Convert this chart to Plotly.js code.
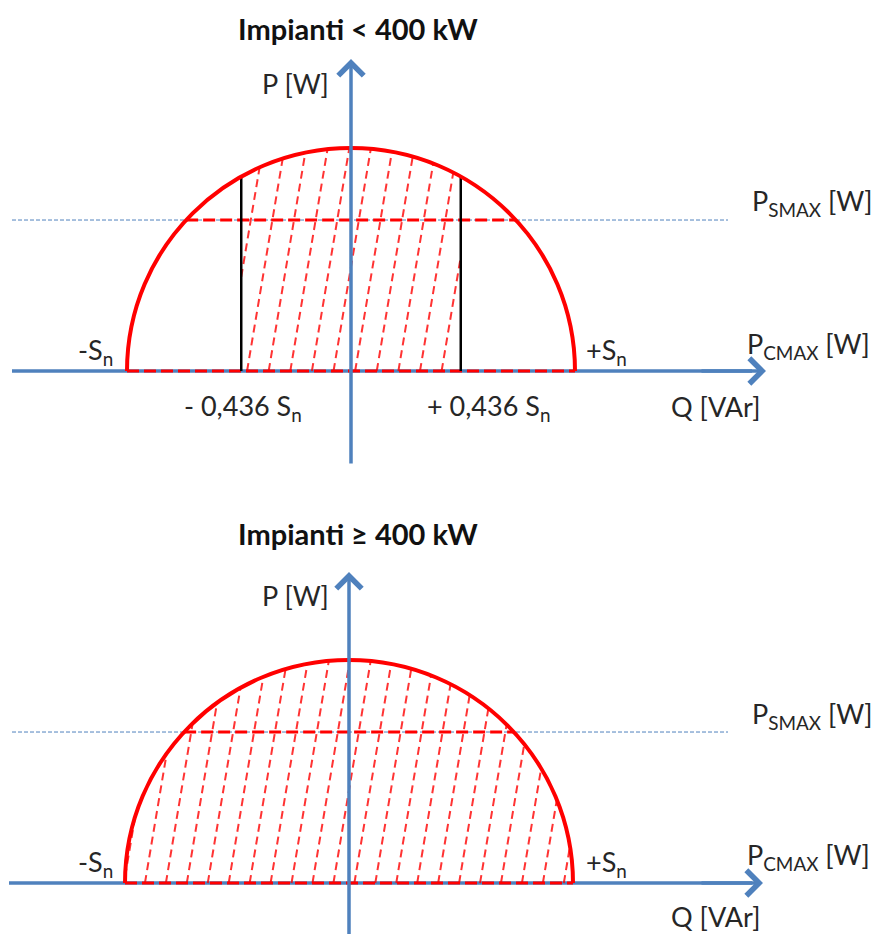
<!DOCTYPE html>
<html><head><meta charset="utf-8">
<script src="https://cdn.plot.ly/plotly-3.0.1.min.js"></script>
<style>html,body{margin:0;padding:0;background:#fff}</style>
</head><body><div id="chart" style="width:879px;height:934px"></div>
<script>
// ---- data ----
const chartTitles = ['Impianti < 400 kW', 'Impianti \u2265 400 kW'];
const nominalS = 1;                  // Sn: radius of the capability semicircle
const pSmaxLevel = [0.677, 0.677];   // P_SMAX level (fraction of Sn)
const qLimit = [0.49, 1.0];          // reactive-power limit of the hatched area (fraction of Sn)
const hasLimitLines = [true, false];
const pLabel = 'P [W]';
const qLabel = 'Q [VAr]';
const smaxLabel = 'P<sub>SMAX</sub> [W]';
const cmaxLabel = 'P<sub>CMAX</sub> [W]';
const snLabels = ['-S<sub>n</sub>', '+S<sub>n</sub>'];
const limitLabels = ['- 0,436 S<sub>n</sub>', '+ 0,436 S<sub>n</sub>'];

// ---- layout helpers (pixel geometry of the two diagrams) ----
const W = 879, H = 934;
const sx = 224, sy = 223;
const centers = [{cx: 351, cy: 371}, {cx: 349, cy: 883}];
const hatchStart = [-0.464, -0.911], hatchStep = [0.0965, 0.0935], hatchSlope = 0.167;
const axBlue = '#4F81BD', red = '#FF0000', txt = '#262626';
const fontFam = 'Lato, "Open Sans", sans-serif';

const traces = [], shapes = [], annotations = [];
function px(i, X) { return (X - centers[i].cx) / sx; }
function py(i, Y) { return (centers[i].cy - Y) / sy; }

[0, 1].forEach(i => {
  const xa = i === 0 ? 'x' : 'x2', ya = i === 0 ? 'y' : 'y2';
  const S = nominalS, ps = pSmaxLevel[i], L = qLimit[i] * S;
  const base = {xaxis: xa, yaxis: ya, mode: 'lines', hoverinfo: 'skip', showlegend: false};
  // horizontal axis
  traces.push(Object.assign({}, base, {x: [px(i, i ? 9 : 12), px(i, 752)], y: [0, 0],
    line: {color: axBlue, width: 3.5}}));
  // P_SMAX thin blue dashed line
  traces.push(Object.assign({}, base, {x: [px(i, 12), px(i, 728)], y: [ps, ps],
    line: {color: axBlue, width: 1, dash: '4px,2px'}}));
  // hatching
  const hx = [], hy = [], k = hatchSlope;
  for (let q0 = hatchStart[i] - 8 * hatchStep[i]; q0 < S; q0 += hatchStep[i]) {
    const a = 1 + k * k, b = 2 * k * q0, c = q0 * q0 - S * S;
    const d = b * b - 4 * a * c; if (d <= 0) continue;
    let lo = Math.max(0, (-b - Math.sqrt(d)) / (2 * a), (-L - q0) / k);
    let hi = Math.min((-b + Math.sqrt(d)) / (2 * a), (L - q0) / k);
    if (hi - lo < 0.01) continue;
    hx.push(q0 + k * lo, q0 + k * hi, null); hy.push(lo, hi, null);
  }
  traces.push(Object.assign({}, base, {x: hx, y: hy, connectgaps: false,
    line: {color: 'rgba(255,0,0,0.8)', width: 2, dash: '8px,5px'}}));
  // red dashed P_SMAX and bottom lines
  const qs = Math.sqrt(S * S - ps * ps);
  traces.push(Object.assign({}, base, {x: [-qs, qs], y: [ps, ps],
    line: {color: red, width: 3, dash: '12px,5px'}}));
  traces.push(Object.assign({}, base, {x: [-S, S], y: [0, 0],
    line: {color: red, width: 3, dash: '12px,5px'}}));
  // black limit lines
  if (hasLimitLines[i]) {
    const pl = Math.sqrt(S * S - L * L);
    traces.push(Object.assign({}, base, {x: [-L, -L, null, L, L], y: [0, pl, null, 0, pl],
      line: {color: '#000', width: 2.5}}));
  }
  // semicircle
  const cc = 0.5523;
  shapes.push({type: 'path', xref: xa, yref: ya, layer: 'above',
    path: `M ${-S},0 C ${-S},${cc * S} ${-cc * S},${S} 0,${S} C ${cc * S},${S} ${S},${cc * S} ${S},0`,
    line: {color: red, width: 4}});
  // axis arrows
  annotations.push({xref: xa, yref: ya, axref: xa, ayref: ya, x: 0, y: py(i, i ? 572 : 59),
    ax: 0, ay: py(i, i ? 940 : 465), text: '', showarrow: true, arrowhead: 4, arrowsize: 1.4,
    arrowwidth: 3.5, arrowcolor: axBlue});
  annotations.push({xref: xa, yref: ya, axref: xa, ayref: ya, x: px(i, i ? 763 : 766), y: 0,
    ax: px(i, 700), ay: 0, text: '', showarrow: true, arrowhead: 4, arrowsize: 1.4,
    arrowwidth: 3.5, arrowcolor: axBlue});
});

function label(text, X, Y, size, bold, anchor) {
  annotations.push({xref: 'paper', yref: 'paper', x: X / W, y: 1 - Y / H, text: bold ? '<b>' + text + '</b>' : text,
    showarrow: false, xanchor: anchor || 'center', yanchor: 'middle',
    font: {family: fontFam, size: size, color: bold ? '#111' : txt}});
}
const fs = 27, ts = 29;
// top diagram
label(chartTitles[0], 358, 28, ts, true);
label(pLabel, 295, 83, fs);
label(smaxLabel, 750, 203, fs, false, 'left');
label(snLabels[0], 95, 352, fs);
label(snLabels[1], 606, 352, fs);
label(cmaxLabel, 745, 345, fs, false, 'left');
label(limitLabels[0], 243, 408, fs);
label(limitLabels[1], 488, 408, fs);
label(qLabel, 715, 407, fs);
// bottom diagram
label(chartTitles[1], 358, 533, ts, true);
label(pLabel, 295, 595, fs);
label(smaxLabel, 750, 715, fs, false, 'left');
label(snLabels[0], 95, 863, fs);
label(snLabels[1], 606, 863, fs);
label(cmaxLabel, 745, 856, fs, false, 'left');
label(qLabel, 715, 916, fs);

const hidden = {visible: false, fixedrange: true};
const layout = {
  width: W, height: H, margin: {l: 0, r: 0, t: 0, b: 0},
  paper_bgcolor: '#fff', plot_bgcolor: '#fff', showlegend: false,
  xaxis: Object.assign({range: [px(0, 0), px(0, W)], anchor: 'y'}, hidden),
  yaxis: Object.assign({range: [py(0, H), py(0, 0)], anchor: 'x'}, hidden),
  xaxis2: Object.assign({range: [px(1, 0), px(1, W)], anchor: 'y2', overlaying: 'x'}, hidden),
  yaxis2: Object.assign({range: [py(1, H), py(1, 0)], anchor: 'x2', overlaying: 'y'}, hidden),
  shapes: shapes, annotations: annotations
};
Plotly.newPlot('chart', traces, layout, {displayModeBar: false, staticPlot: true});
</script></body></html>
